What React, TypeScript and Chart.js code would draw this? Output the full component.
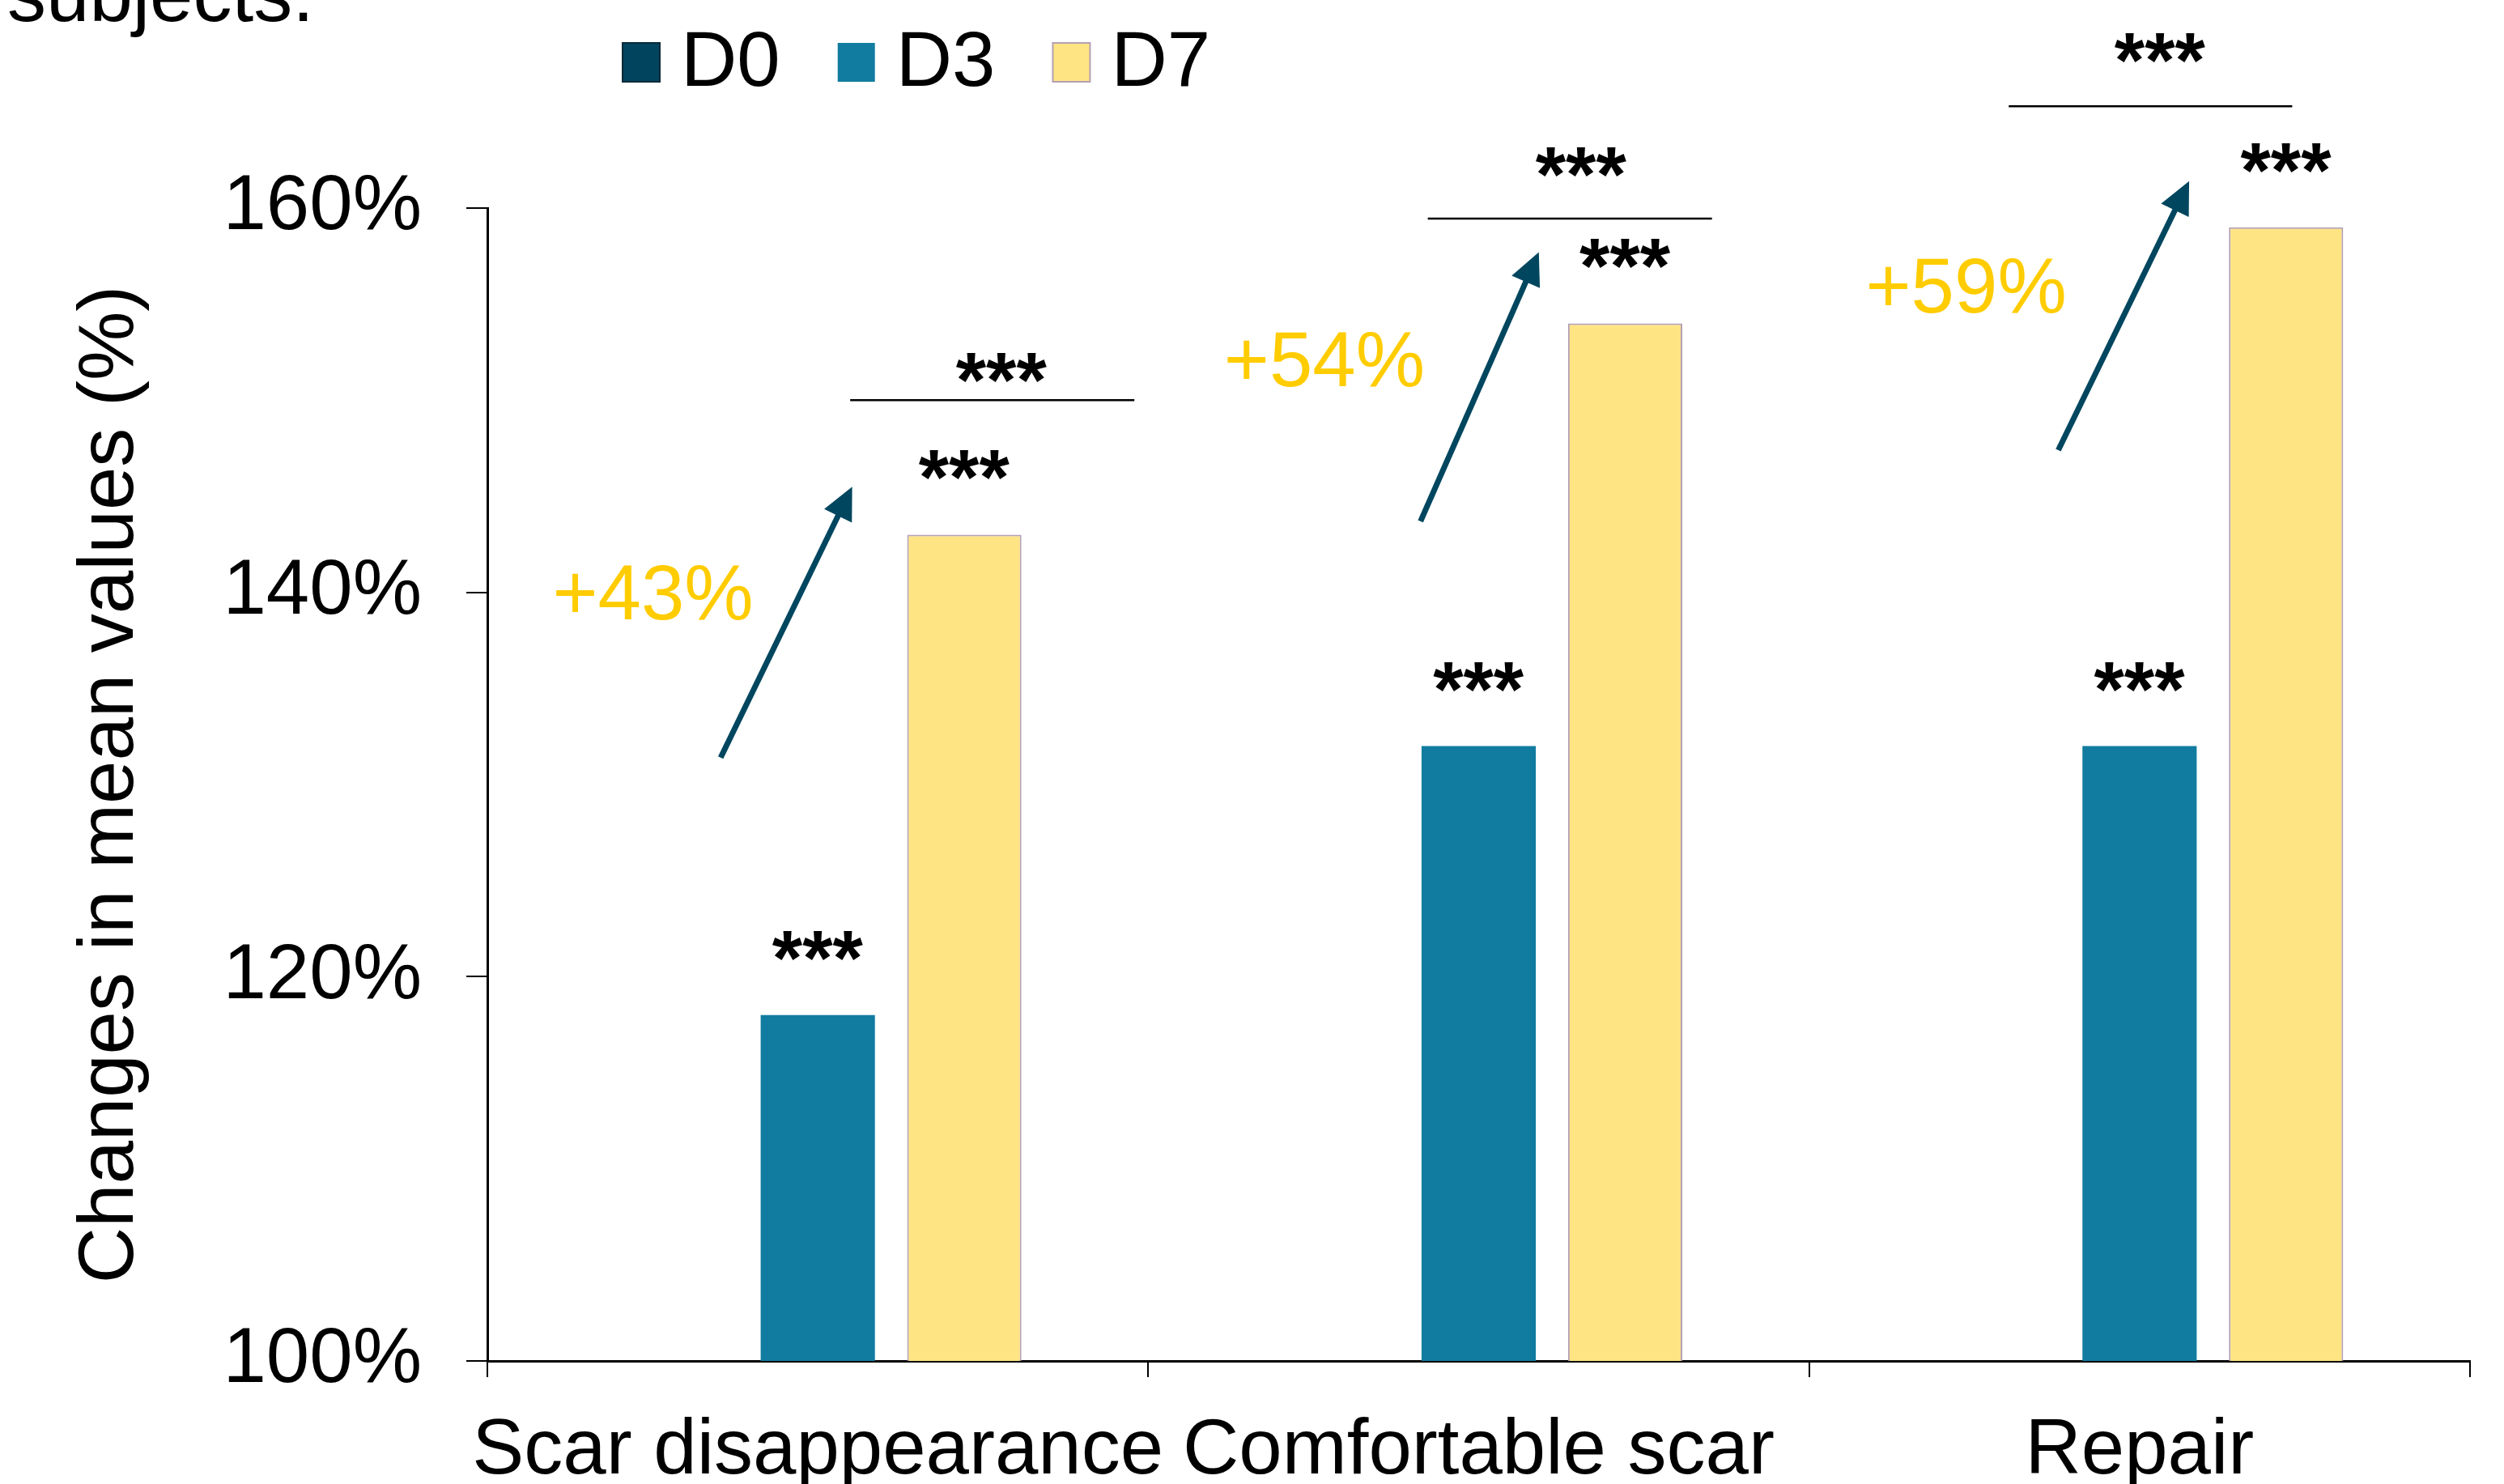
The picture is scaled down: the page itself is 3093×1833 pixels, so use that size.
import React, { useEffect, useRef } from 'react';
import { Chart, registerables } from 'chart.js';

Chart.register(...registerables);

// ---------------- data ----------------
const categories = ['Scar disappearance', 'Comfortable scar', 'Repair'];
const seriesLabels = ['D0', 'D3', 'D7'];
const d0Values = [100, 100, 100];
const d3Values = [118, 132, 132];
const d7Values = [143, 154, 159];
const yTickValues = [100, 120, 140, 160];
const d3Significance = ['***', '***', '***'];
const d7Significance = ['***', '***', '***'];
const d0VsD7Significance = ['***', '***', '***'];
const changeLabels = ['+43%', '+54%', '+59%'];
const captionText = 'subjects.';
const yAxisTitle = 'Changes in mean values (%)';

// ---------------- styles / layout ----------------
const FONT = "'Liberation Sans', Arial, Helvetica, sans-serif";
const FS = 96;
const COLORS = {
  d0: '#01445E',
  d3: '#127CA0',
  d7: '#FEE483',
  d7Border: '#B3A0B4',
  arrow: '#00465F',
  gold: '#FFCC00',
  text: '#000000',
};
const W = 3093;
const H = 1833;

// annotation geometry: x in category-width units relative to category centre, y in axis units
const ANNOT = {
  barStarGap: 86,
  bracketLevel: [150.0, 159.45, 165.3],
  bracketFrom: [0.049, -0.077, -0.198],
  bracketTo: [0.479, 0.353, 0.231],
  bracketStarLevel: [151.7, 162.4, 168.35],
  bracketStarX: [0.278, 0.155, 0.031],
  arrowFromX: [-0.147, -0.088, -0.123],
  arrowFromLevel: [131.4, 143.7, 147.4],
  arrowToX: [0.052, 0.091, 0.075],
  arrowToLevel: [145.5, 157.7, 161.4],
  labelX: [-0.249, -0.233, -0.262],
  labelLevel: [140.0, 152.1, 155.95],
};

function drawCentered(ctx: CanvasRenderingContext2D, text: string, cx: number, cy: number) {
  ctx.textAlign = 'center';
  ctx.textBaseline = 'alphabetic';
  const m = ctx.measureText(text);
  const y = cy - (m.actualBoundingBoxDescent - m.actualBoundingBoxAscent) / 2;
  const x = cx - (m.actualBoundingBoxRight - m.actualBoundingBoxLeft) / 2;
  ctx.fillText(text, x, y);
}

function drawArrow(ctx: CanvasRenderingContext2D, x1: number, y1: number, x2: number, y2: number) {
  const dx = x2 - x1;
  const dy = y2 - y1;
  const len = Math.hypot(dx, dy);
  const ux = dx / len;
  const uy = dy / len;
  const headLen = 40;
  const headHalf = 19;
  ctx.save();
  ctx.strokeStyle = COLORS.arrow;
  ctx.fillStyle = COLORS.arrow;
  ctx.lineWidth = 7;
  ctx.lineCap = 'butt';
  ctx.beginPath();
  ctx.moveTo(x1, y1);
  ctx.lineTo(x2 - ux * headLen * 0.8, y2 - uy * headLen * 0.8);
  ctx.stroke();
  const bx = x2 - ux * headLen;
  const by = y2 - uy * headLen;
  ctx.beginPath();
  ctx.moveTo(x2, y2);
  ctx.lineTo(bx - uy * headHalf, by + ux * headHalf);
  ctx.lineTo(bx + uy * headHalf, by - ux * headHalf);
  ctx.closePath();
  ctx.fill();
  ctx.restore();
}

const annotationPlugin = {
  id: 'annotations',
  afterDraw(chart: any) {
    const ctx: CanvasRenderingContext2D = chart.ctx;
    const xs = chart.scales.x;
    const ys = chart.scales.y;
    const catW = xs.getPixelForValue(1) - xs.getPixelForValue(0);
    const metaD3 = chart.getDatasetMeta(1);
    const metaD7 = chart.getDatasetMeta(2);
    ctx.save();
    categories.forEach((_, i) => {
      const cx = xs.getPixelForValue(i);
      // stars above bars
      ctx.font = `bold ${FS}px ${FONT}`;
      ctx.fillStyle = COLORS.text;
      const b3 = metaD3.data[i];
      const b7 = metaD7.data[i];
      drawCentered(ctx, d3Significance[i], b3.x, b3.y - ANNOT.barStarGap);
      drawCentered(ctx, d7Significance[i], b7.x, b7.y - ANNOT.barStarGap);
      // bracket
      const by = ys.getPixelForValue(ANNOT.bracketLevel[i]);
      ctx.strokeStyle = '#000';
      ctx.lineWidth = 2.5;
      ctx.beginPath();
      ctx.moveTo(cx + ANNOT.bracketFrom[i] * catW, by);
      ctx.lineTo(cx + ANNOT.bracketTo[i] * catW, by);
      ctx.stroke();
      drawCentered(
        ctx,
        d0VsD7Significance[i],
        cx + ANNOT.bracketStarX[i] * catW,
        ys.getPixelForValue(ANNOT.bracketStarLevel[i])
      );
      // arrow
      drawArrow(
        ctx,
        cx + ANNOT.arrowFromX[i] * catW,
        ys.getPixelForValue(ANNOT.arrowFromLevel[i]),
        cx + ANNOT.arrowToX[i] * catW,
        ys.getPixelForValue(ANNOT.arrowToLevel[i])
      );
      // change label
      ctx.font = `${FS}px ${FONT}`;
      ctx.fillStyle = COLORS.gold;
      drawCentered(ctx, changeLabels[i], cx + ANNOT.labelX[i] * catW, ys.getPixelForValue(ANNOT.labelLevel[i]));
    });
    ctx.restore();
  },
};

const legendPlugin = {
  id: 'customLegend',
  afterDraw(chart: any) {
    const ctx: CanvasRenderingContext2D = chart.ctx;
    const boxW = 46;
    const boxH = 48;
    const boxTop = 53;
    const textGap = 26;
    const itemGap = 71;
    const baseline = 106;
    let x = chart.chartArea.left + 167;
    ctx.save();
    ctx.font = `${FS}px ${FONT}`;
    ctx.textAlign = 'left';
    ctx.textBaseline = 'alphabetic';
    chart.data.datasets.forEach((ds: any, i: number) => {
      ctx.fillStyle = ds.backgroundColor;
      ctx.fillRect(x, boxTop, boxW, boxH);
      const border = i === 0 ? '#0B2A38' : i === 2 ? COLORS.d7Border : null;
      if (border) {
        ctx.strokeStyle = border;
        ctx.lineWidth = 2;
        ctx.strokeRect(x, boxTop, boxW, boxH);
      }
      const tx = x + boxW + textGap;
      ctx.fillStyle = COLORS.text;
      ctx.fillText(ds.label, tx, baseline);
      x = tx + ctx.measureText(ds.label).width + itemGap;
    });
    // caption fragment at the top-left (continuation of text above the figure)
    ctx.fillText(captionText, 9, 26);
    ctx.restore();
  },
};

export default function App() {
  const ref = useRef<HTMLCanvasElement>(null);

  useEffect(() => {
    if (!ref.current) return;
    Chart.defaults.font.family = FONT;
    const chart = new Chart(ref.current, {
      type: 'bar',
      data: {
        labels: categories,
        datasets: [
          {
            label: seriesLabels[0],
            data: d0Values,
            backgroundColor: COLORS.d0,
            borderWidth: 0,
          },
          {
            label: seriesLabels[1],
            data: d3Values,
            backgroundColor: COLORS.d3,
            borderWidth: 0,
          },
          {
            label: seriesLabels[2],
            data: d7Values,
            backgroundColor: COLORS.d7,
            borderColor: COLORS.d7Border,
            borderWidth: 2,
          },
        ],
      },
      options: {
        responsive: false,
        animation: false,
        devicePixelRatio: 1,
        categoryPercentage: 0.665,
        barPercentage: 0.78,
        layout: { padding: { top: 257, right: 42, left: 0, bottom: 0 } },
        plugins: {
          legend: { display: false },
          tooltip: { enabled: false },
          title: { display: false },
        },
        scales: {
          x: {
            grid: {
              display: true,
              drawOnChartArea: false,
              drawTicks: true,
              tickLength: 20,
              color: '#000',
              lineWidth: 2,
              offset: true,
            },
            border: { display: true, color: '#000', width: 3 },
            ticks: {
              color: COLORS.text,
              font: { size: FS, family: FONT },
              padding: 35,
              maxRotation: 0,
              autoSkip: false,
            },
            afterFit: (scale: any) => {
              scale.height = H - 1681;
            },
          },
          y: {
            min: 100,
            max: 160,
            afterBuildTicks: (scale: any) => {
              scale.ticks = yTickValues.map((v) => ({ value: v }));
            },
            grid: {
              display: true,
              drawOnChartArea: false,
              drawTicks: true,
              tickLength: 26,
              color: '#000',
              lineWidth: 2,
            },
            border: { display: true, color: '#000', width: 3 },
            ticks: {
              color: COLORS.text,
              font: { size: FS, family: FONT },
              padding: 55,
              callback: (v: any) => `${v}%`,
            },
            title: {
              display: true,
              text: yAxisTitle,
              color: COLORS.text,
              font: { size: FS, family: FONT },
              padding: { top: 80, bottom: 0 },
            },
            afterFit: (scale: any) => {
              scale.width = 602;
            },
          },
        },
      },
      plugins: [annotationPlugin, legendPlugin],
    });
    return () => chart.destroy();
  }, []);

  return (
    <div
      style={{
        position: 'fixed',
        left: 0,
        top: 0,
        width: W,
        height: H,
        overflow: 'hidden',
        background: '#ffffff',
      }}
    >
      <canvas ref={ref} width={W} height={H} style={{ display: 'block', width: W, height: H }} />
    </div>
  );
}
